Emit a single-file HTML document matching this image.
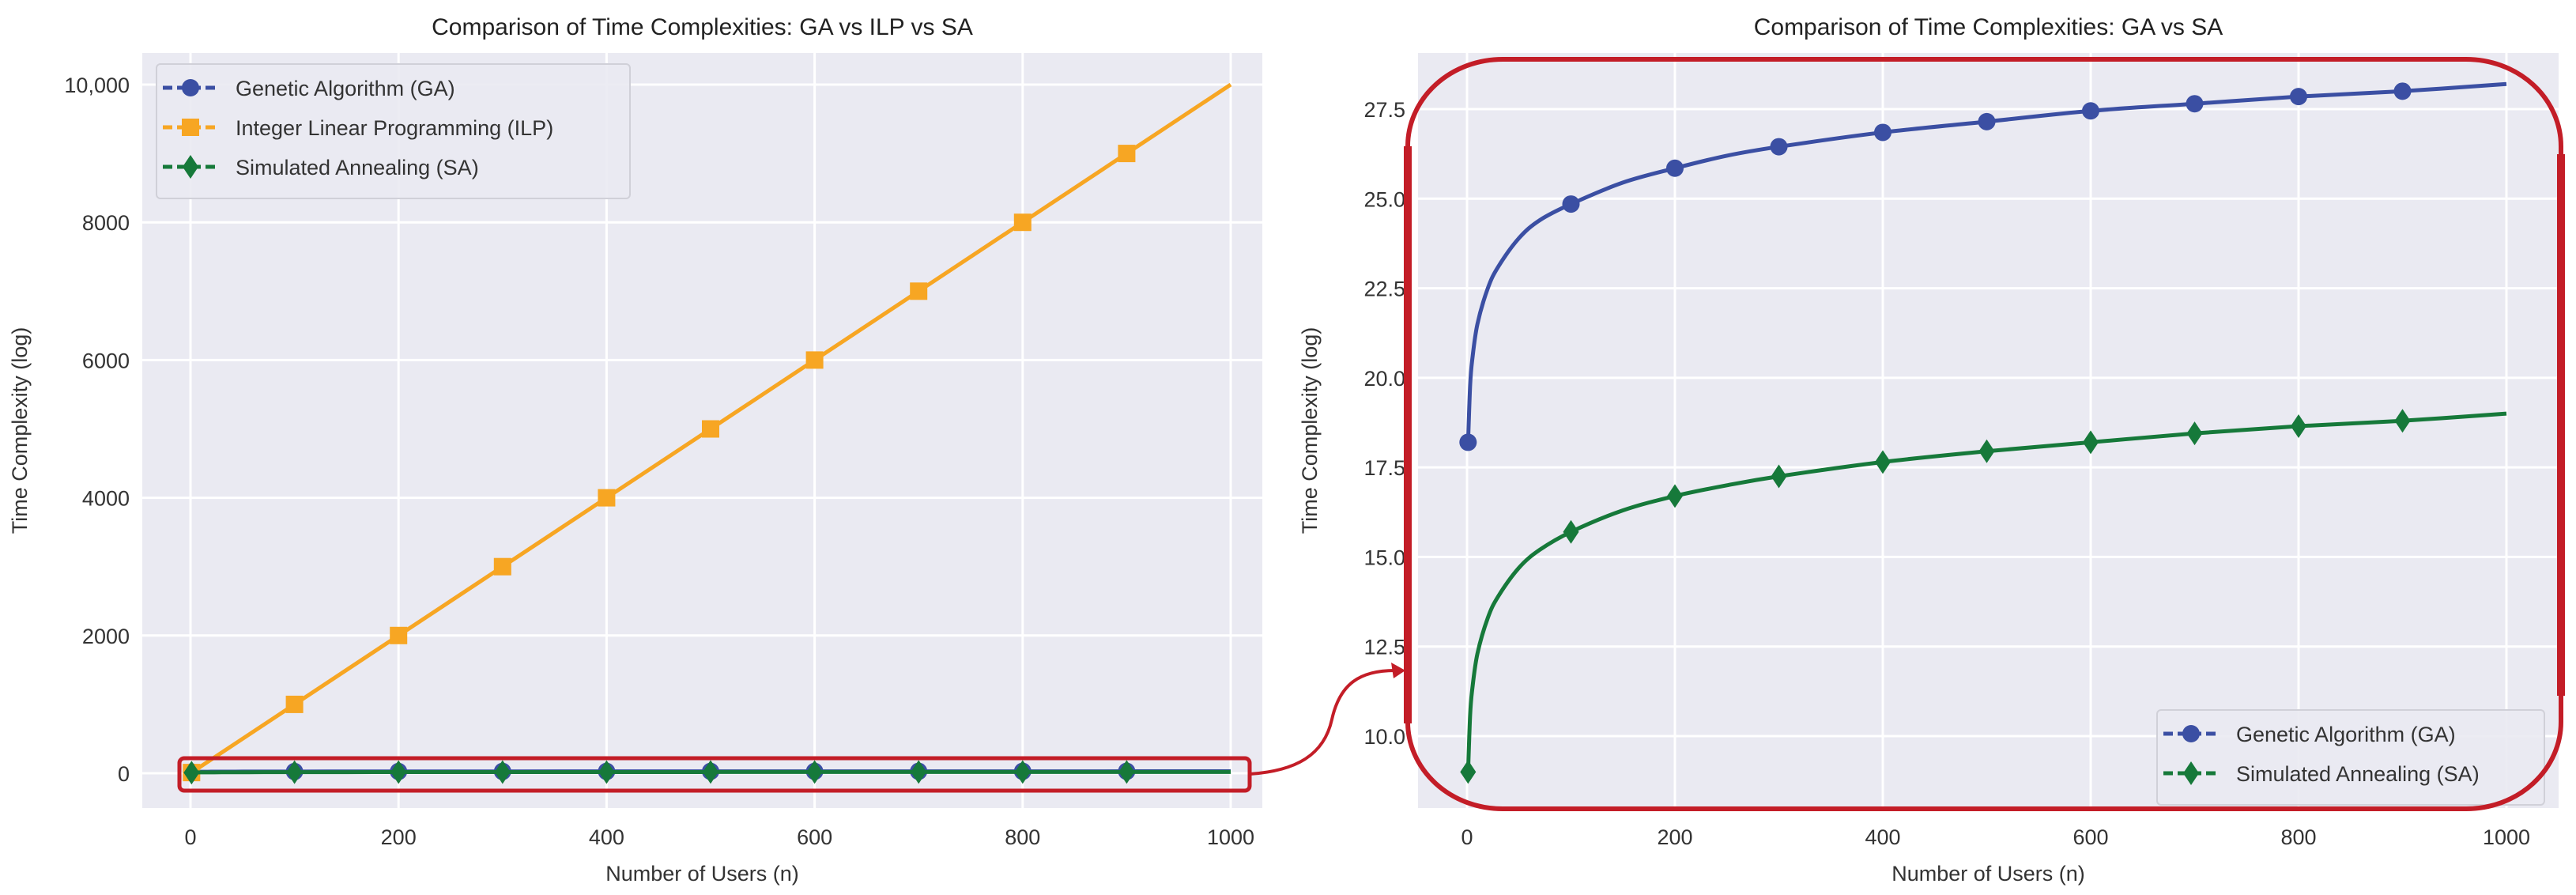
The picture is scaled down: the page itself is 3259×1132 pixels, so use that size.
<!DOCTYPE html>
<html><head><meta charset="utf-8"><style>
html,body{margin:0;padding:0;background:#fff}
svg{display:block;font-family:"Liberation Sans",sans-serif}
</style></head><body>
<svg id="chart" width="3259" height="1132" viewBox="0 0 3259 1132">
<g id="left"></g>
<g id="right"></g>
<g id="overlay"></g>
</svg>
<script>
// ---- data ----
const markerN = [1,100,200,300,400,500,600,700,800,900];
const curveN = [1,3,5,10,20,30,50,70,100,150,200,250,300,400,500,600,700,800,900,1000];
const gaValues = [18.2,19.8,20.5,21.5,22.5,23.1,23.9,24.4,24.85,25.45,25.85,26.2,26.45,26.85,27.15,27.45,27.65,27.85,28.0,28.2];
const saValues = [9.0,10.6,11.3,12.3,13.3,13.9,14.7,15.2,15.7,16.3,16.7,17.0,17.25,17.65,17.95,18.2,18.45,18.65,18.8,19.0];
const ilpN = [1,100,200,300,400,500,600,700,800,900,1000];
const ilpValues = [10,1000,2000,3000,4000,5000,6000,7000,8000,9000,10000];
const leftXTicks = [0,200,400,600,800,1000];
const leftYTicks = [0,2000,4000,6000,8000,10000];
const leftYTickLabels = ["0","2000","4000","6000","8000","10,000"];
const rightXTicks = [0,200,400,600,800,1000];
const rightYTicks = [10.0,12.5,15.0,17.5,20.0,22.5,25.0,27.5];
const rightYTickLabels = ["10.0","12.5","15.0","17.5","20.0","22.5","25.0","27.5"];

const NS="http://www.w3.org/2000/svg";
const C_GA="#3b4fa3", C_ILP="#f7a623", C_SA="#16793a", RED="#c31d27";
function mk(parent,tag,attrs,text){const e=document.createElementNS(NS,tag);for(const k in attrs)e.setAttribute(k,attrs[k]);if(text!==undefined)e.textContent=text;parent.appendChild(e);return e;}
function interp(xs,ys,x){for(let i=0;i<xs.length-1;i++){if(x<=xs[i+1]){const t=(x-xs[i])/(xs[i+1]-xs[i]);return ys[i]+t*(ys[i+1]-ys[i]);}}return ys[ys.length-1];}
function smoothPath(pts){let d="M"+pts[0][0]+","+pts[0][1];for(let i=0;i<pts.length-1;i++){const p0=pts[Math.max(0,i-1)],p1=pts[i],p2=pts[i+1],p3=pts[Math.min(pts.length-1,i+2)];const c1=[p1[0]+(p2[0]-p0[0])/6,p1[1]+(p2[1]-p0[1])/6],c2=[p2[0]-(p3[0]-p1[0])/6,p2[1]-(p3[1]-p1[1])/6];d+=` C${c1[0]},${c1[1]} ${c2[0]},${c2[1]} ${p2[0]},${p2[1]}`;}return d;}
function marker(g,type,x,y,color){
  if(type==="circle"){const m=mk(g,"circle",{cx:x,cy:y,r:11,fill:color});}
  else if(type==="square"){const m=mk(g,"rect",{x:x-11,y:y-11,width:22,height:22,fill:color});}
  else {const m=mk(g,"polygon",{points:`${x},${y-15} ${x+10},${y} ${x},${y+15} ${x-10},${y}`,fill:color});}
}
function axes(g,o){
  const bg=mk(g,"rect",{x:o.L,y:o.T,width:o.R-o.L,height:o.B-o.T,fill:"#eaeaf2"});
  
  o.xt.forEach(v=>{const x=o.sx(v);mk(g,"line",{x1:x,x2:x,y1:o.T,y2:o.B,stroke:"#fff","stroke-width":3});
    const t=mk(g,"text",{x:x,y:1068,"text-anchor":"middle","font-size":27,fill:"#333"},String(v));});
  o.yt.forEach((v,i)=>{const y=o.sy(v);mk(g,"line",{x1:o.L,x2:o.R,y1:y,y2:y,stroke:"#fff","stroke-width":3});
    const t=mk(g,"text",{x:o.L-16,y:y+10,"text-anchor":"end","font-size":27,fill:"#333"},o.yl[i]);});
  const ti=mk(g,"text",{x:(o.L+o.R)/2,y:44,"text-anchor":"middle","font-size":30,fill:"#222"},o.title);
  const xl=mk(g,"text",{x:(o.L+o.R)/2,y:1114,"text-anchor":"middle","font-size":27,fill:"#333"},"Number of Users (n)");
  const yl=mk(g,"text",{x:0,y:0,"text-anchor":"middle","font-size":27,fill:"#333",transform:`translate(${o.ylx},${(o.T+o.B)/2}) rotate(-90)`},"Time Complexity  (log)");
}
function legend(g,x,y,w,entries){
  const h=entries.length*50+20;
  const b=mk(g,"rect",{x:x,y:y,width:w,height:h,rx:5,fill:"#eaeaf2",stroke:"#d0d0d8","stroke-width":2,"fill-opacity":0.9});
  
  entries.forEach((e,i)=>{const cy=y+30+i*50;
    mk(g,"line",{x1:x+8,x2:x+78,y1:cy,y2:cy,stroke:e.c,"stroke-width":5,"stroke-dasharray":"12,6"});
    marker(g,e.m,x+43,cy,e.c);
    const t=mk(g,"text",{x:x+100,y:cy+10,"font-size":27,fill:"#333"},e.label);});
}
// ---- left panel ----
const gl=document.getElementById("left");
const Lo={L:180,R:1597,T:67,B:1022,sx:v=>241+(v/1000)*1316,sy:v=>978-(v/10000)*871,xt:leftXTicks,yt:leftYTicks,yl:leftYTickLabels,title:"Comparison of Time Complexities: GA vs ILP vs SA",ylx:34};
axes(gl,Lo);
function series(g,o,xs,ys,color,type,name){
  const pts=xs.map((n,i)=>[o.sx(n),o.sy(ys[i])]);
  const p=mk(g,"path",{d:smoothPath(pts),fill:"none",stroke:color,"stroke-width":5});
  
  markerN.forEach(n=>marker(g,type,o.sx(n),o.sy(interp(xs,ys,n)),color));
}
series(gl,Lo,curveN,gaValues,C_GA,"circle","ga-line");
series(gl,Lo,ilpN,ilpValues,C_ILP,"square","ilp-line");
series(gl,Lo,curveN,saValues,C_SA,"diamond","sa-line");
legend(gl,198,81,599,[{c:C_GA,m:"circle",label:"Genetic Algorithm (GA)"},{c:C_ILP,m:"square",label:"Integer Linear Programming (ILP)"},{c:C_SA,m:"diamond",label:"Simulated Annealing (SA)"}]);
// ---- right panel ----
const gr=document.getElementById("right");
const Ro={L:1794,R:3237,T:67,B:1022,sx:v=>1856+(v/1000)*1315,sy:v=>931-((v-10)/17.5)*793,xt:rightXTicks,yt:rightYTicks,yl:rightYTickLabels,title:"Comparison of Time Complexities: GA vs SA",ylx:1666};
axes(gr,Ro);
series(gr,Ro,curveN,gaValues,C_GA,"circle","ga-line");
series(gr,Ro,curveN,saValues,C_SA,"diamond","sa-line");
legend(gr,2729,898,490,[{c:C_GA,m:"circle",label:"Genetic Algorithm (GA)"},{c:C_SA,m:"diamond",label:"Simulated Annealing (SA)"}]);
// ---- overlay ----
const ov=document.getElementById("overlay");
const r1=mk(ov,"rect",{x:227,y:959,width:1354,height:41,rx:6,fill:"none",stroke:RED,"stroke-width":5});

const r2=mk(ov,"rect",{x:1781,y:75,width:1459,height:948,rx:120,ry:110,fill:"none",stroke:RED,"stroke-width":6});

const s1=mk(ov,"line",{x1:1781,x2:1781,y1:185,y2:915,stroke:RED,"stroke-width":10});

const s2=mk(ov,"line",{x1:3240,x2:3240,y1:195,y2:880,stroke:RED,"stroke-width":10});

const cp=mk(ov,"path",{d:"M1581,979 C1640,975 1675,955 1685,910 C1695,865 1720,848 1765,848",fill:"none",stroke:RED,"stroke-width":4});

const ah=mk(ov,"polygon",{points:"1778,848 1760,838 1763,858",fill:RED});

</script>
</body></html>
